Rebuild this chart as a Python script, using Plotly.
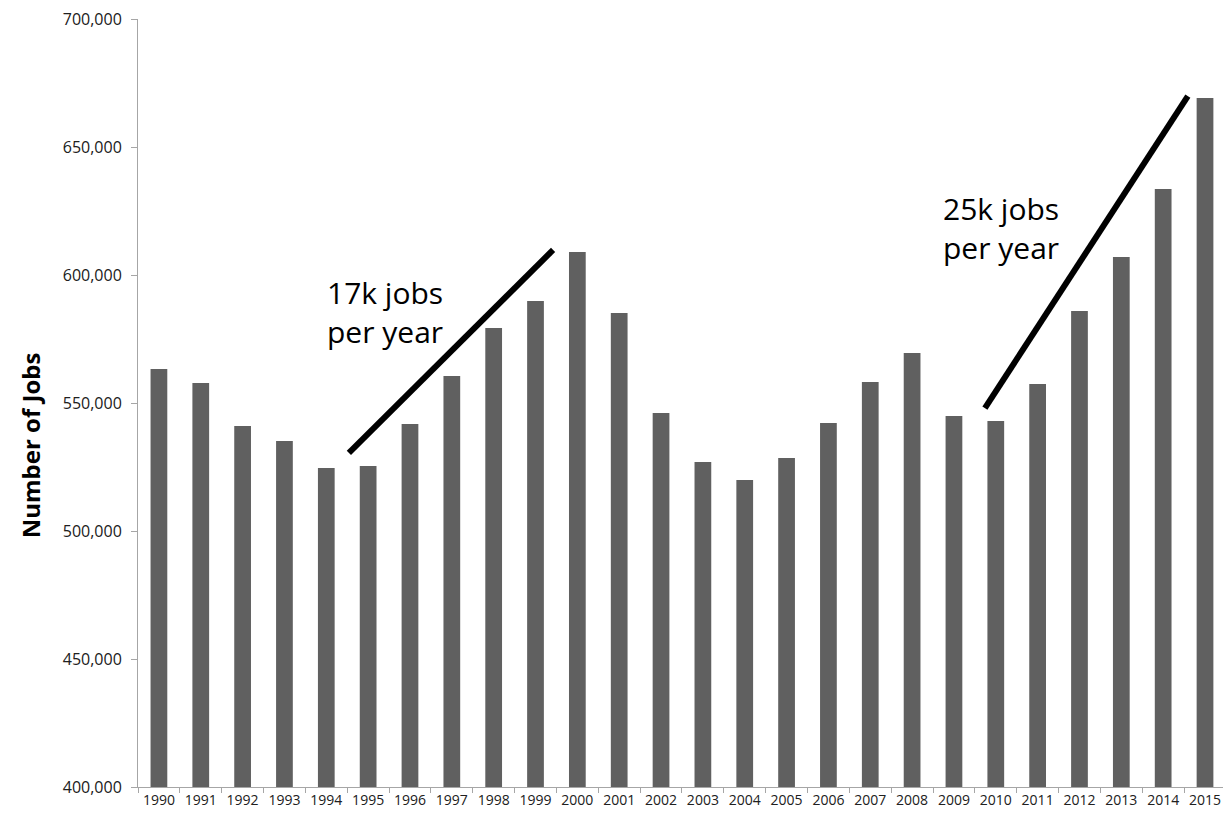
import plotly.graph_objects as go

years = [str(y) for y in range(1990, 2016)]
jobs = [563300, 557800, 541000, 535200, 524600, 525400, 541800, 560500, 579300, 589800,
        609000, 585200, 546100, 527000, 519900, 528500, 542200, 558200, 569500, 544900,
        543000, 557400, 585900, 607000, 633600, 669100]

y_ticks = [400000, 450000, 500000, 550000, 600000, 650000, 700000]
y_tick_labels = ["400,000", "450,000", "500,000", "550,000", "600,000", "650,000", "700,000"]

# trend line annotations (category index, value)
trend1_x = [4.54, 9.42]
trend1_y = [530500, 609800]
trend2_x = [19.74, 24.59]
trend2_y = [548000, 669900]
label1 = "17k jobs<br>per year"
label2 = "25k jobs<br>per year"
label1_pos = (3.98, 585500)
label2_pos = (18.7, 618400)

fig = go.Figure()
fig.add_trace(go.Bar(x=years, y=jobs, marker=dict(color="#606060", line=dict(width=0)),
                     showlegend=False))

for xs, ys in [(trend1_x, trend1_y), (trend2_x, trend2_y)]:
    fig.add_shape(type="line", xref="x", yref="y", x0=xs[0], y0=ys[0], x1=xs[1], y1=ys[1],
                  line=dict(color="black", width=6))

for (lx, ly), txt in [(label1_pos, label1), (label2_pos, label2)]:
    fig.add_annotation(x=lx, y=ly, xref="x", yref="y", text=txt, showarrow=False,
                       xanchor="left", yanchor="middle", align="left",
                       font=dict(family="Open Sans", size=30, color="black"))

fig.add_annotation(x=-0.0995, y=0.445, xref="paper", yref="paper", text="<b>Number of Jobs</b>",
                   showarrow=False, textangle=-90, xanchor="center", yanchor="middle",
                   font=dict(family="Open Sans", size=24, color="black"))

fig.update_layout(
    width=1223, height=817,
    margin=dict(l=138, r=0, t=19, b=30),
    plot_bgcolor="white", paper_bgcolor="white",
    bargap=0.6,
    font=dict(family="Open Sans", size=14, color="#202020"),
    xaxis=dict(type="category", range=[-0.5, 25.43], showgrid=False, tickson="boundaries",
               ticks="outside", ticklen=5, tickcolor="#a6a6a6", showline=True,
               linecolor="#a6a6a6", linewidth=1, tickfont=dict(size=14, color="#202020")),
    yaxis=dict(range=[400000, 700000], tickvals=y_ticks, ticktext=y_tick_labels,
               showgrid=False, zeroline=False, ticks="outside", ticklen=6, tickcolor="#a6a6a6",
               showline=True, linecolor="#a6a6a6", linewidth=1, ticklabelstandoff=6,
               tickfont=dict(size=16, color="#202020")),
)

fig.write_html("out.html", config={"displayModeBar": False},
               post_script="document.body.style.margin='0';document.body.style.overflow='hidden';")
